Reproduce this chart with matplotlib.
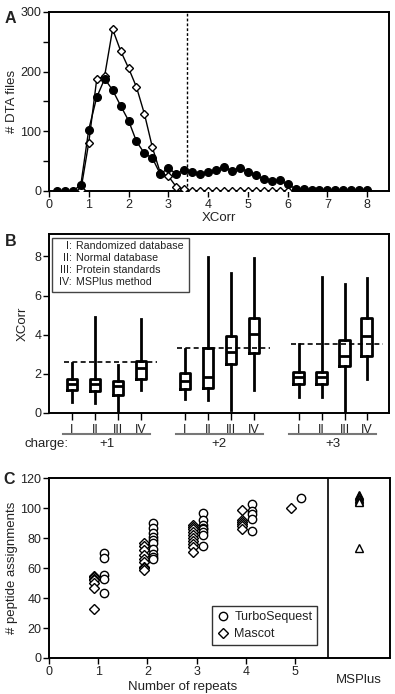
import matplotlib
matplotlib.use('Agg')
import matplotlib.pyplot as plt
from matplotlib.patches import Rectangle

plt.rcParams['font.family'] = ['Liberation Sans', 'DejaVu Sans']
plt.rcParams['font.size'] = 9.5
plt.rcParams['text.color'] = '#222222'
plt.rcParams['axes.labelcolor'] = '#222222'
plt.rcParams['xtick.labelcolor'] = '#222222'
plt.rcParams['ytick.labelcolor'] = '#222222'

# ---- Panel A: XCorr histograms
xcorr_bins = [0.2, 0.4, 0.6, 0.8, 1.0, 1.2, 1.4, 1.6, 1.8, 2.0,
              2.2, 2.4, 2.6, 2.8, 3.0, 3.2, 3.4, 3.6, 3.8, 4.0,
              4.2, 4.4, 4.6, 4.8, 5.0, 5.2, 5.4, 5.6, 5.8, 6.0,
              6.2, 6.4, 6.6, 6.8, 7.0, 7.2, 7.4, 7.6, 7.8, 8.0]
filled_counts = [0, 0, 0, 10, 103, 157, 188, 169, 143, 118,
                 83, 63, 55, 28, 39, 28, 36, 31, 28, 31,
                 35, 40, 34, 39, 32, 26, 20, 17, 18, 11,
                 4, 4, 1, 1, 1, 1, 1, 1, 1, 1]
open_bins = [0.8, 1.0, 1.2, 1.4, 1.6, 1.8, 2.0, 2.2, 2.4, 2.6,
             2.8, 3.0, 3.2, 3.4, 3.6, 3.8, 4.0, 4.2, 4.4, 4.6,
             4.8, 5.0, 5.2, 5.4, 5.6, 5.8, 6.0, 6.2, 6.4]
open_counts = [1, 81, 187, 193, 271, 235, 206, 174, 129, 73,
               30, 25, 7, 3, 0, 0, 0, 0, 0, 0,
               0, 0, 0, 0, 0, 0, 0, 0, 0]
cutoff_a = 3.47

# ---- Panel B: XCorr box plots
box_labels = ['I', 'II', 'III', 'IV'] * 3
box_pos = [1, 2, 3, 4, 5.9, 6.9, 7.9, 8.9, 10.85, 11.85, 12.85, 13.8]
whis_hi = [2.58, 4.92, 2.44, 4.79, 3.26, 7.97, 7.15, 7.91, 3.52, 6.94, 6.58, 6.89]
q3 = [1.76, 1.73, 1.64, 2.65, 2.02, 3.30, 3.93, 4.87, 2.08, 2.08, 3.73, 4.87]
med = [1.47, 1.47, 1.38, 2.28, 1.64, 1.85, 3.13, 4.03, 1.82, 1.82, 2.90, 3.93]
q1 = [1.20, 1.13, 0.90, 1.76, 1.25, 1.30, 2.50, 3.08, 1.50, 1.50, 2.39, 2.90]
whis_lo = [0.56, 0.53, 0.0, 1.20, 0.70, 0.65, 0.14, 1.20, 0.82, 0.82, 0.0, 1.76]
charges = ['+1', '+2', '+3']
thresholds = [2.63, 3.32, 3.55]
legend_num = ['I:', 'II:', 'III:', 'IV:']
legend_txt = ['Randomized database', 'Normal database',
              'Protein standards', 'MSPlus method']

# ---- Panel C: peptide assignments vs repeats
repeats = [1, 2, 3, 4, 5]
mascot = [
    [55, 54, 53, 52, 50, 46.5, 32.5],
    [77, 75, 72, 69, 66, 64, 61, 60, 58.5],
    [89, 87.5, 86, 84, 82, 80, 78, 76, 74, 71],
    [99, 92, 91, 89.5, 88, 86],
    [100],
]
turbo = [
    [70, 66.5, 55.5, 52.5, 43.5],
    [90, 86.5, 83.5, 81, 79, 77, 73, 69.5, 67.5, 66],
    [96.5, 92, 89, 87, 86, 84, 82, 75],
    [102.5, 98, 96, 93, 85],
    [107],
]
msplus = [109, 108, 107, 106, 105, 104, 73.5]

fig = plt.figure(figsize=(3.95, 6.94), dpi=100)


def style_axes(ax):
    for s in ax.spines.values():
        s.set_linewidth(1.4)
    ax.tick_params(direction='out', length=4, width=1, labelsize=9, pad=1.5)


# Panel A
axA = fig.add_axes([0.124, 0.7248, 0.861, 0.258])
axA.plot(open_bins, open_counts, '-D', color='black', lw=1, ms=4.5,
         mfc='white', mec='black', mew=1, zorder=3)
axA.plot(xcorr_bins, filled_counts, '-o', color='black', lw=1, ms=5.5,
         mfc='black', zorder=4)
axA.axvline(cutoff_a, color='black', lw=1, ls=(0, (2, 1.5)), zorder=2)
axA.set_xlim(0, 8.55)
axA.set_ylim(0, 300)
axA.set_xticks(range(0, 9))
axA.set_yticks([0, 100, 200, 300])
axA.set_yticks([50, 150, 250], minor=True)
axA.tick_params(which='minor', direction='out', length=4, width=1)
axA.set_xlabel('XCorr', labelpad=1)
axA.set_ylabel('# DTA files', labelpad=2)
style_axes(axA)
fig.text(0.012, 0.974, 'A', fontsize=11.5, fontweight='bold', va='center')

# Panel B
axB = fig.add_axes([0.124, 0.4049, 0.861, 0.258])
stats = []
for i in range(len(box_pos)):
    stats.append({'whislo': whis_lo[i], 'q1': q1[i], 'med': med[i],
                  'q3': q3[i], 'whishi': whis_hi[i]})
lp = dict(color='black', linewidth=2)
axB.bxp(stats, positions=box_pos, widths=0.45, showfliers=False,
        showcaps=False, boxprops=lp, whiskerprops=lp, medianprops=lp)
for g in range(3):
    x0 = box_pos[4 * g] - 0.4
    x1 = box_pos[4 * g + 3] + 0.4
    axB.plot([x0 + 0.05, x1 + 0.3], [thresholds[g]] * 2, color='black',
             lw=1.2, ls=(0, (3, 2)))
    axB.plot([x0, x1], [-0.117, -0.117], color='#777777', lw=1.5,
             transform=axB.get_xaxis_transform(), clip_on=False)
    axB.text((box_pos[4 * g] + box_pos[4 * g + 3]) / 2, -0.175, charges[g],
             transform=axB.get_xaxis_transform(), ha='center', va='center')
axB.text(0.058, -0.175, 'charge:', transform=axB.transAxes, ha='right',
         va='center')
axB.set_xlim(0, 14.78)
axB.set_ylim(0, 9.15)
axB.set_yticks([0, 2, 4, 6, 8])
axB.set_xticks(box_pos)
axB.set_xticklabels(box_labels)
axB.set_ylabel('XCorr', labelpad=4)
style_axes(axB)
axB.tick_params(axis='x', length=5, pad=3)
axB.add_patch(Rectangle((0.009, 0.676), 0.403, 0.302, transform=axB.transAxes,
                        fill=False, edgecolor='#444444', lw=1))
for k in range(4):
    y = 0.933 - k * 0.068
    axB.text(0.067, y, legend_num[k], transform=axB.transAxes, ha='right',
             va='center', fontsize=7.7)
    axB.text(0.079, y, legend_txt[k], transform=axB.transAxes, ha='left',
             va='center', fontsize=7.7)
fig.text(0.012, 0.652, 'B', fontsize=11.5, fontweight='bold', va='center')

# Panel C
axC = fig.add_axes([0.124, 0.0519, 0.864, 0.259])
for i, r in enumerate(repeats):
    axC.plot([r - 0.08] * len(mascot[i]), mascot[i], 'D', ms=5, mfc='white',
             mec='black', mew=1, ls='none',
             label='Mascot' if i == 0 else None)
for i, r in enumerate(repeats):
    axC.plot([r + 0.12] * len(turbo[i]), turbo[i], 'o', ms=6, mfc='white',
             mec='black', mew=1, ls='none',
             label='TurboSequest' if i == 0 else None)
axC.plot([6.29] * len(msplus), msplus, '^', ms=6, mfc='white', mec='black',
         mew=1, ls='none')
axC.axvline(5.66, color='black', lw=1.2)
axC.set_xlim(0, 6.93)
axC.set_ylim(0, 120)
axC.set_xticks([0] + repeats)
axC.set_yticks(range(0, 121, 20))
axC.set_ylabel('# peptide assignments', labelpad=2)
axC.set_xlabel('Number of repeats')
axC.xaxis.set_label_coords(0.393, -0.13)
axC.text(6.29, -0.12, 'MSPlus', transform=axC.get_xaxis_transform(),
         ha='center', va='center')
style_axes(axC)
h, l = axC.get_legend_handles_labels()
leg = axC.legend(h[::-1], l[::-1], loc='lower right',
                 bbox_to_anchor=(0.805, 0.035), fancybox=False, framealpha=1,
                 edgecolor='#333333', fontsize=9, handletextpad=0.4,
                 borderpad=0.4, labelspacing=0.4, handlelength=1)
leg.get_frame().set_linewidth(1)
fig.text(0.008, 0.309, 'C', fontsize=11.5, fontweight='bold', va='center')

fig.savefig('out.png', dpi=100)
